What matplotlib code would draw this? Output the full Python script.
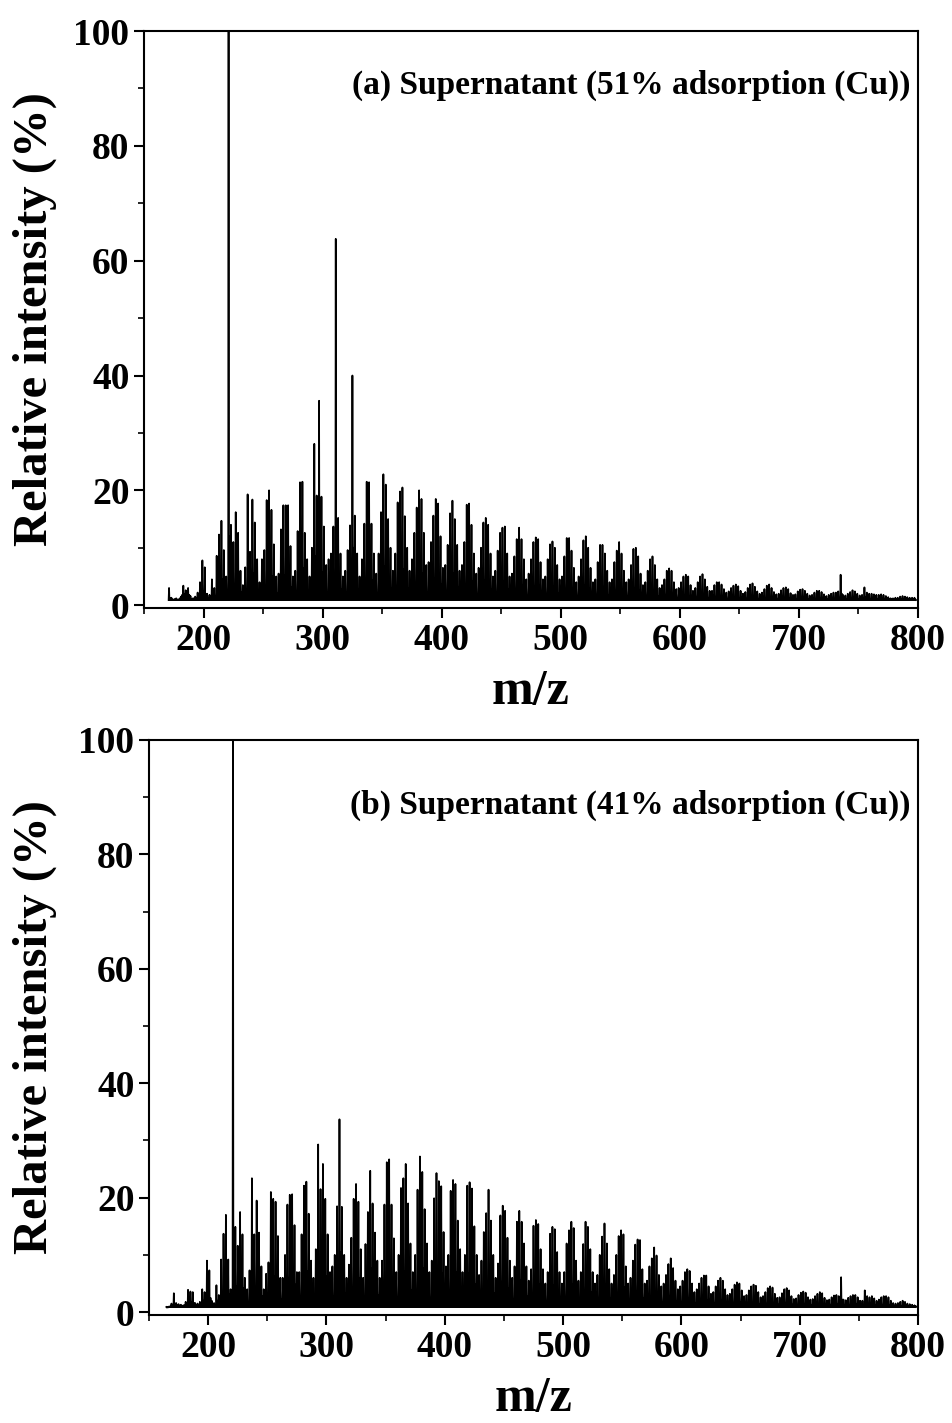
import numpy as np
import matplotlib.pyplot as plt

plt.rcParams['font.family'] = ['Liberation Serif', 'DejaVu Serif']
plt.rcParams['font.weight'] = 'bold'

# panel (a): peak heights (%) at odd m/z starting 171, and even m/z starting 172
start_a = 171
odd_a = [
    3.0, 1.3, 1.0, 1.2,
    1.0, 1.5, 3.4, 2.6, 3.0, 1.6, 1.2,
    1.5, 2.2, 4.0, 7.8, 6.6, 2.0, 1.8,
    4.5, 3.0, 8.6, 12.3, 14.7, 9.6, 5.0,
    100.0, 14.0, 11.0, 16.2, 12.6, 6.0, 3.5,
    6.6, 19.3, 9.3, 18.4, 14.4, 8.0, 4.0,
    8.0, 9.6, 18.3, 20.0, 16.6, 10.6, 5.0,
    5.5, 13.2, 17.4, 17.4, 17.4, 10.3, 5.0,
    6.0, 12.9, 21.4, 21.5, 12.6, 8.0, 5.0,
    10.0, 28.1, 19.1, 35.6, 18.9, 13.7, 7.0,
    8.0, 9.0, 13.7, 63.8, 15.2, 9.0, 5.0,
    6.0, 9.6, 13.9, 40.0, 15.6, 9.0, 5.0,
    8.0, 14.2, 21.5, 21.4, 14.2, 9.0, 5.5,
    9.0, 16.2, 22.8, 21.0, 15.0, 10.0, 6.0,
    9.0, 17.9, 19.8, 20.5, 15.5, 10.0, 6.0,
    8.0, 12.6, 17.0, 20.0, 18.5, 12.6, 7.0,
    7.5, 11.0, 15.6, 18.5, 17.7, 12.0, 6.5,
    7.0, 10.5, 16.0, 18.2, 15.0, 10.5, 6.0,
    7.0, 11.0, 17.5, 17.7, 14.0, 9.0, 5.5,
    6.5, 10.0, 14.4, 15.2, 14.0, 9.0, 5.0,
    6.0, 9.5, 12.6, 13.5, 13.7, 9.0, 5.0,
    5.5, 8.5, 11.5, 13.5, 11.5, 8.0, 4.5,
    5.5, 8.0, 11.0, 11.8, 11.5, 7.5, 4.5,
    5.0, 8.0, 10.6, 11.1, 10.0, 7.0, 4.5,
    5.0, 8.5, 11.7, 11.7, 9.5, 6.5, 4.0,
    5.0, 8.0, 11.3, 12.0, 10.0, 6.5, 4.0,
    4.5, 7.5, 10.5, 10.5, 9.0, 6.0, 4.0,
    4.5, 7.5, 9.5, 11.0, 9.0, 6.0, 4.0,
    4.5, 7.0, 9.8, 10.0, 8.5, 5.5, 3.5,
    4.0, 6.0, 8.0, 8.5, 7.0, 4.5, 3.0,
    3.5, 4.5, 6.0, 6.4, 6.0, 4.0, 2.8,
    3.0, 4.0, 5.0, 5.3, 5.0, 3.5, 2.5,
    3.0, 4.0, 5.0, 5.4, 4.5, 3.2, 2.5,
    2.5, 3.5, 4.0, 4.0, 3.6, 2.8, 2.2,
    2.4, 3.0, 3.4, 3.6, 3.3, 2.5, 2.0,
    2.3, 3.0, 3.6, 3.8, 3.2, 2.4, 2.0,
    2.2, 2.8, 3.4, 3.6, 3.0, 2.3, 1.9,
    2.0, 2.6, 3.0, 3.1, 2.8, 2.1, 1.8,
    1.9, 2.4, 2.7, 2.8, 2.5, 2.0, 1.7,
    1.8, 2.2, 2.5, 2.5, 2.3, 1.9, 1.6,
    1.8, 2.0, 2.2, 2.2, 2.4, 5.3, 1.8,
    1.7, 2.0, 2.3, 2.6, 2.4, 2.0, 1.7,
    1.8, 3.1, 2.2, 2.0, 2.0, 1.9, 1.8,
    1.8, 1.9, 1.8, 1.6, 1.4, 1.2, 1.2,
    1.3, 1.3, 1.5, 1.6, 1.5, 1.4, 1.3,
    1.3, 1.3, 1.3,
]
even_a = [
    1.2, 1.0, 1.1, 1.0,
    1.2, 1.8, 2.0, 1.5, 1.8, 1.1, 1.2,
    1.3, 1.5, 2.0, 2.5, 2.0, 1.2, 1.3,
    1.8, 1.5, 3.0, 4.0, 4.5, 3.0, 1.8,
    12.0, 4.0, 3.5, 5.0, 4.0, 2.2, 1.6,
    2.2, 6.0, 3.0, 5.5, 4.5, 2.5, 1.6,
    2.5, 3.0, 5.5, 6.0, 5.0, 3.2, 2.0,
    4.0, 5.2, 5.2, 5.2, 5.2, 3.1, 2.0,
    2.0, 4.0, 6.5, 6.5, 4.0, 2.5, 2.0,
    3.0, 8.5, 5.7, 10.7, 5.7, 4.1, 2.2,
    2.5, 2.8, 4.1, 13.0, 4.6, 2.8, 2.0,
    2.0, 2.9, 4.2, 10.0, 4.7, 2.8, 2.0,
    2.5, 4.3, 6.5, 6.4, 4.3, 2.8, 2.0,
    2.8, 4.9, 6.8, 6.3, 4.5, 3.0, 2.0,
    2.8, 5.4, 5.9, 6.2, 4.7, 3.0, 2.0,
    2.5, 3.8, 5.1, 6.0, 5.6, 3.8, 2.1,
    2.3, 3.3, 4.7, 5.6, 5.3, 3.6, 2.0,
    2.1, 3.2, 4.8, 5.5, 4.5, 3.2, 1.8,
    2.1, 3.3, 5.3, 5.3, 4.2, 2.7, 1.7,
    2.0, 3.0, 4.3, 4.6, 4.2, 2.7, 1.6,
    1.8, 2.9, 3.8, 4.1, 4.1, 2.7, 1.6,
    1.7, 2.6, 3.5, 4.1, 3.5, 2.4, 1.5,
    1.7, 2.4, 3.3, 3.5, 3.5, 2.3, 1.5,
    1.6, 2.4, 3.2, 3.3, 3.0, 2.1, 1.5,
    1.6, 2.6, 3.5, 3.5, 2.9, 2.0, 1.4,
    1.6, 2.4, 3.4, 3.6, 3.0, 2.0, 1.4,
    1.5, 2.3, 3.2, 3.2, 2.7, 1.8, 1.4,
    1.5, 2.3, 2.9, 3.3, 2.7, 1.8, 1.4,
    1.5, 2.1, 2.9, 3.0, 2.6, 1.7, 1.3,
    1.4, 1.8, 2.4, 2.6, 2.1, 1.5, 1.3,
    1.3, 1.5, 1.8, 1.9, 1.8, 1.4, 1.2,
    1.2, 1.3, 1.5, 1.6, 1.5, 1.2, 1.2,
    1.2, 1.3, 1.5, 1.6, 1.4, 1.2, 1.2,
    1.2, 1.2, 1.3, 1.3, 1.3, 1.2, 1.1,
    1.1, 1.2, 1.2, 1.3, 1.2, 1.1, 1.1,
    1.1, 1.2, 1.3, 1.3, 1.2, 1.1, 1.1,
    1.1, 1.2, 1.2, 1.3, 1.2, 1.1, 1.1,
    1.1, 1.1, 1.2, 1.2, 1.2, 1.1, 1.1,
    1.1, 1.1, 1.2, 1.2, 1.1, 1.1, 1.1,
    1.1, 1.1, 1.1, 1.2, 1.1, 1.1, 1.1,
    1.1, 1.1, 1.1, 1.1, 1.1, 2.0, 1.1,
    1.1, 1.1, 1.1, 1.2, 1.1, 1.1, 1.1,
    1.1, 1.4, 1.1, 1.1, 1.1, 1.1, 1.1,
    1.1, 1.1, 1.1, 1.1, 1.0, 1.0, 1.0,
    1.0, 1.0, 1.1, 1.1, 1.1, 1.0, 1.0,
    1.0, 1.0,
]

# panel (b): odd m/z starting 165, even m/z starting 166
start_b = 165
odd_b = [
    0.8, 1.0, 1.5, 3.3, 1.6, 1.4, 1.3,
    1.2, 1.8, 3.9, 3.6, 3.5, 1.6, 1.5,
    1.8, 4.0, 3.5, 9.0, 7.3, 2.0, 1.6,
    4.7, 3.0, 9.2, 13.7, 17.0, 9.2, 4.0,
    100.0, 14.9, 11.6, 17.5, 13.6, 6.0, 4.0,
    7.3, 23.4, 13.6, 19.5, 13.9, 8.0, 4.0,
    6.7, 8.7, 21.0, 19.8, 19.3, 13.3, 6.0,
    6.0, 10.0, 18.8, 20.5, 20.6, 15.2, 7.0,
    7.0, 13.6, 22.1, 22.8, 17.2, 9.0, 6.0,
    11.0, 29.3, 21.5, 25.9, 19.8, 13.6, 7.0,
    8.0, 10.0, 18.5, 33.7, 18.4, 10.0, 6.0,
    8.3, 13.0, 19.8, 22.4, 19.3, 11.0, 6.0,
    11.9, 17.5, 24.7, 19.0, 13.9, 9.0, 6.0,
    9.0, 18.8, 26.2, 26.7, 18.8, 12.9, 7.0,
    10.0, 21.7, 23.4, 25.9, 19.0, 12.0, 7.0,
    10.0, 21.4, 27.2, 24.5, 18.0, 12.0, 7.0,
    9.0, 19.9, 24.3, 22.9, 22.0, 14.0, 8.0,
    10.0, 21.2, 23.1, 22.4, 16.0, 11.0, 7.0,
    10.0, 22.1, 22.7, 21.6, 15.0, 10.0, 6.5,
    9.0, 14.0, 17.3, 21.4, 16.0, 10.0, 6.0,
    8.5, 16.9, 18.6, 17.7, 13.0, 9.0, 6.0,
    8.0, 15.8, 17.7, 15.8, 12.0, 8.0, 5.5,
    7.5, 15.1, 16.1, 15.4, 11.0, 7.5, 5.0,
    7.0, 13.7, 14.9, 14.5, 10.5, 7.0, 5.0,
    7.0, 12.0, 14.3, 15.8, 14.7, 9.0, 5.5,
    7.0, 11.9, 15.8, 14.9, 11.0, 7.0, 5.0,
    6.5, 10.0, 13.2, 15.5, 12.0, 7.5, 5.0,
    6.5, 10.0, 13.3, 14.3, 13.6, 8.0, 5.0,
    6.0, 9.0, 11.8, 12.7, 12.6, 7.5, 5.0,
    5.5, 8.0, 9.4, 11.3, 9.9, 6.5, 4.5,
    5.0, 6.5, 8.4, 9.4, 7.7, 5.5, 4.0,
    4.5, 5.5, 7.0, 7.5, 7.2, 5.0, 3.5,
    4.0, 5.0, 6.0, 6.4, 6.4, 4.5, 3.2,
    3.5, 4.5, 5.5, 6.0, 5.5, 4.0, 3.0,
    3.2, 4.0, 4.8, 5.2, 5.0, 3.8, 2.8,
    3.0, 3.8, 4.5, 4.8, 4.6, 3.5, 2.6,
    2.8, 3.5, 4.2, 4.5, 4.3, 3.2, 2.5,
    2.6, 3.3, 4.0, 4.2, 3.8, 2.8, 2.3,
    2.4, 3.0, 3.4, 3.6, 3.4, 2.6, 2.2,
    2.3, 2.8, 3.2, 3.5, 3.3, 2.5, 2.1,
    2.2, 2.6, 2.9, 3.0, 2.8, 6.1, 2.2,
    2.1, 2.5, 2.8, 3.0, 3.0, 2.6, 2.0,
    2.0, 3.8, 2.8, 2.6, 2.8, 2.4, 2.0,
    2.2, 2.6, 2.8, 2.8, 2.6, 2.0, 1.6,
    1.5, 1.6, 1.8, 2.0, 1.8, 1.5, 1.4,
    1.3, 1.2, 1.3,
]
even_b = [
    0.8, 1.0, 1.2, 1.5, 1.2, 1.1, 1.1,
    1.2, 1.5, 2.0, 1.8, 1.6, 1.2, 1.3,
    1.5, 2.0, 2.0, 3.0, 2.5, 1.4, 1.3,
    2.0, 1.6, 3.2, 4.5, 5.5, 3.2, 1.8,
    13.0, 4.5, 3.8, 5.5, 4.2, 2.4, 1.8,
    2.6, 7.0, 4.2, 6.0, 4.5, 2.8, 1.8,
    2.4, 3.0, 6.5, 6.2, 6.0, 4.2, 2.2,
    2.2, 3.4, 6.0, 6.5, 6.5, 4.8, 2.5,
    2.5, 4.3, 7.0, 7.2, 5.5, 3.0, 2.2,
    3.6, 9.0, 6.8, 8.0, 6.2, 4.3, 2.5,
    2.8, 3.3, 5.8, 10.5, 5.8, 3.3, 2.2,
    2.8, 4.2, 6.2, 7.0, 6.0, 3.6, 2.2,
    3.8, 5.5, 7.6, 6.0, 4.5, 3.0, 2.2,
    3.0, 5.8, 8.0, 8.2, 5.8, 4.1, 2.5,
    3.3, 6.7, 7.2, 8.0, 6.0, 3.9, 2.5,
    3.3, 6.6, 8.3, 7.6, 5.7, 3.9, 2.5,
    3.0, 6.2, 7.5, 7.1, 6.8, 4.5, 2.7,
    3.3, 6.5, 7.1, 6.9, 5.0, 3.6, 2.5,
    3.3, 6.8, 7.0, 6.7, 4.8, 3.3, 2.3,
    3.0, 4.5, 5.4, 6.6, 5.0, 3.3, 2.2,
    2.9, 5.3, 5.8, 5.5, 4.2, 3.0, 2.2,
    2.7, 5.0, 5.5, 5.0, 3.9, 2.7, 2.0,
    2.6, 4.7, 5.0, 4.8, 3.6, 2.6, 1.9,
    2.4, 4.3, 4.7, 4.5, 3.4, 2.4, 1.9,
    2.4, 3.8, 4.5, 4.9, 4.6, 3.0, 2.0,
    2.4, 3.8, 4.9, 4.7, 3.5, 2.4, 1.9,
    2.3, 3.2, 4.2, 4.8, 3.8, 2.5, 1.9,
    2.3, 3.2, 4.2, 4.5, 4.3, 2.7, 1.9,
    2.1, 2.9, 3.7, 4.0, 3.9, 2.5, 1.8,
    2.0, 2.6, 3.0, 3.5, 3.1, 2.2, 1.7,
    1.8, 2.2, 2.7, 3.0, 2.5, 1.9, 1.6,
    1.7, 1.9, 2.3, 2.4, 2.3, 1.8, 1.5,
    1.6, 1.8, 2.0, 2.1, 2.1, 1.7, 1.4,
    1.5, 1.7, 1.9, 2.0, 1.9, 1.6, 1.4,
    1.4, 1.6, 1.7, 1.8, 1.7, 1.5, 1.3,
    1.4, 1.5, 1.6, 1.7, 1.6, 1.4, 1.3,
    1.3, 1.4, 1.5, 1.6, 1.5, 1.4, 1.3,
    1.3, 1.4, 1.5, 1.5, 1.4, 1.3, 1.2,
    1.2, 1.3, 1.4, 1.4, 1.3, 1.2, 1.2,
    1.2, 1.3, 1.3, 1.4, 1.3, 1.2, 1.2,
    1.2, 1.2, 1.3, 1.3, 1.3, 2.2, 1.2,
    1.2, 1.2, 1.3, 1.3, 1.3, 1.2, 1.2,
    1.2, 1.6, 1.3, 1.2, 1.3, 1.2, 1.2,
    1.2, 1.2, 1.3, 1.3, 1.2, 1.2, 1.1,
    1.1, 1.1, 1.1, 1.2, 1.1, 1.1, 1.1,
    1.1, 1.1,
]

labels = ['(a) Supernatant (51% adsorption (Cu))',
          '(b) Supernatant (41% adsorption (Cu))']
xticks = [200, 300, 400, 500, 600, 700, 800]
yticks = [0, 20, 40, 60, 80, 100]


def profile(start, odd, even, base=0.9, hw=0.35):
    n = min(len(odd), len(even))
    h = np.empty(2 * n)
    h[0::2] = odd[:n]
    h[1::2] = even[:n]
    mz = start + np.arange(2 * n)
    x = np.column_stack([mz - hw, mz, mz + hw]).ravel()
    y = np.column_stack([np.full(2 * n, base), h, np.full(2 * n, base)]).ravel()
    return x, y


fig = plt.figure(figsize=(9.52, 14.23), dpi=100)
axa = fig.add_axes([0.1513, 0.5727, 0.813, 0.4055])
axb = fig.add_axes([0.1565, 0.0759, 0.8078, 0.4041])

panels = [(axa, start_a, odd_a, even_a, labels[0], 0.906, -0.112),
          (axb, start_b, odd_b, even_b, labels[1], 0.887, -0.12)]

for ax, st, od, ev, lab, ty, lx in panels:
    x, y = profile(st, od, ev)
    ax.plot(x, y, color='black', lw=1.25)
    ax.set_xlim(150, 800)
    ax.set_ylim(-0.5, 100)
    ax.set_xticks(xticks)
    ax.set_yticks(yticks)
    ax.set_xticks(np.arange(150, 801, 50), minor=True)
    ax.set_yticks(np.arange(0, 101, 10), minor=True)
    ax.tick_params(which='major', direction='out', length=7, width=1.5,
                   labelsize=27, top=False, right=False)
    ax.tick_params(which='minor', direction='out', length=4, width=1.2,
                   top=False, right=False)
    for lbl in ax.get_xticklabels() + ax.get_yticklabels():
        lbl.set_fontweight('bold')
    for s in ax.spines.values():
        s.set_linewidth(1.5)
    ax.set_xlabel('m/z', fontsize=36, fontweight='bold', labelpad=8)
    ax.set_ylabel('Relative intensity (%)', fontsize=35, fontweight='bold')
    ax.yaxis.set_label_coords(lx, 0.5)
    ax.text(0.99, ty, lab, transform=ax.transAxes, ha='right', va='center',
            fontsize=24, fontweight='bold')

fig.savefig('out.png', dpi=100)
